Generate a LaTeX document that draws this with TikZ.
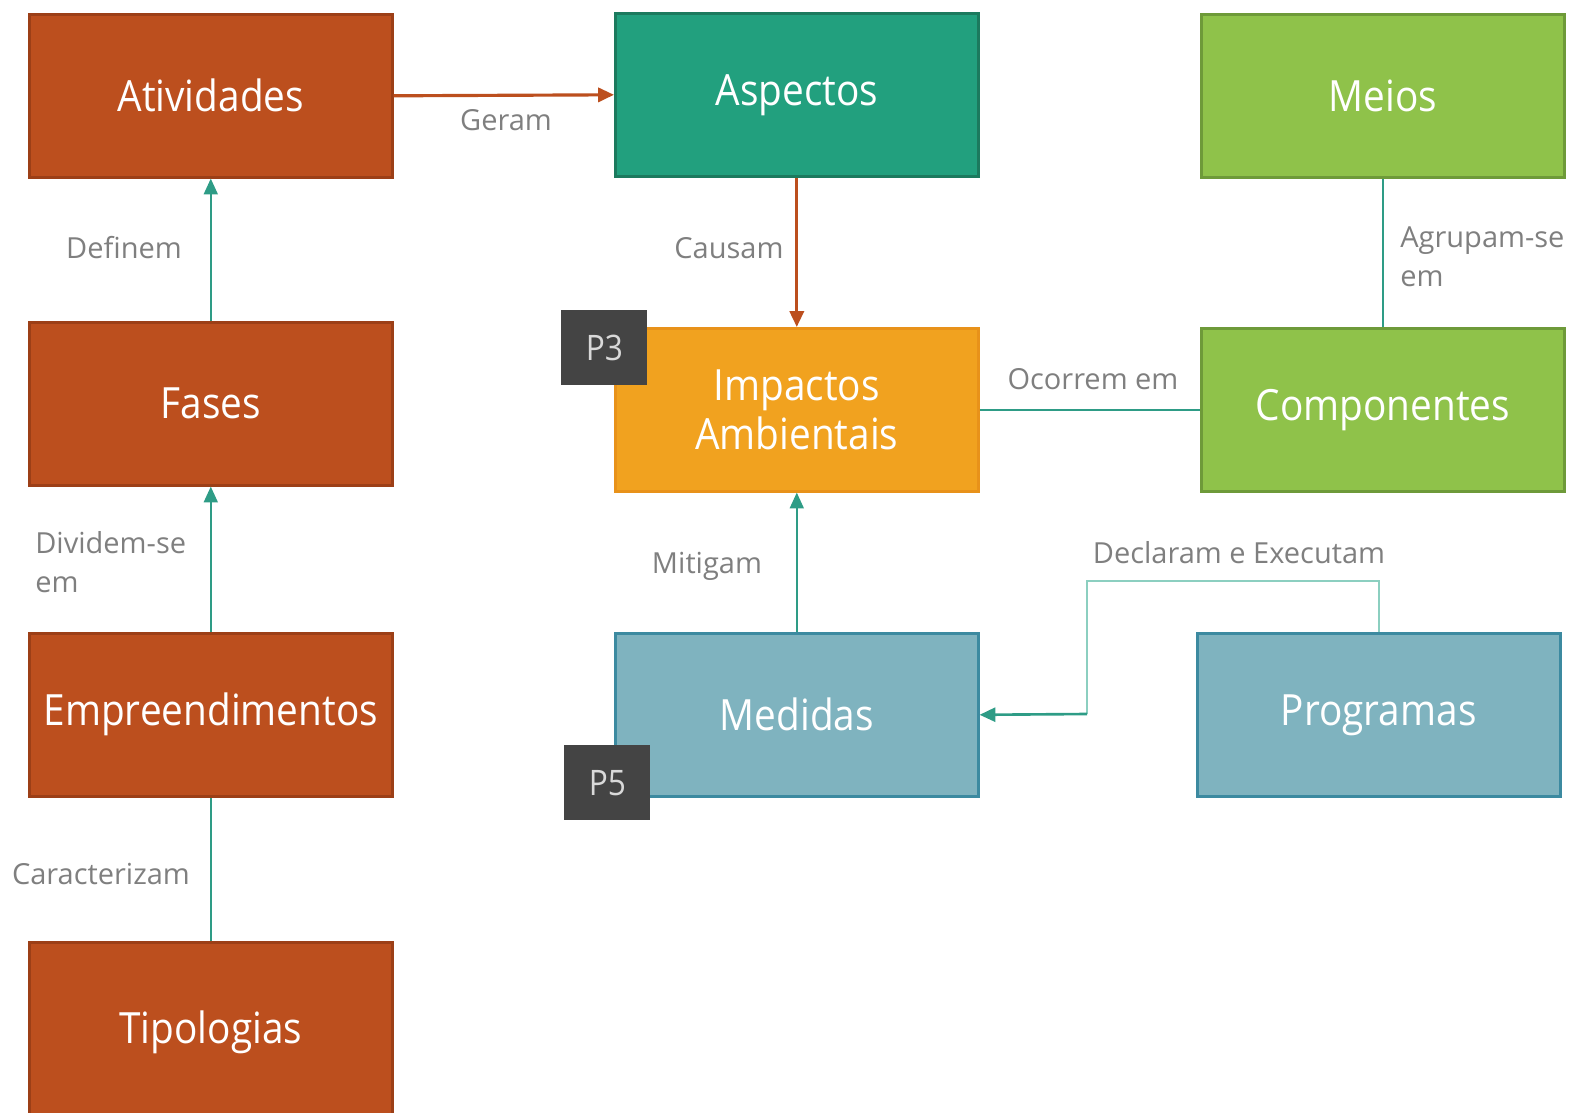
\documentclass[tikz,border=0pt]{standalone}
\usepackage{fontspec}
\setmainfont{Open Sans}
\newfontfamily\boxfont{Open Sans}[FakeStretch=0.9]
\usetikzlibrary{arrows.meta}
\definecolor{rust}{HTML}{BC4F1E}
\definecolor{rustd}{HTML}{9C3F17}
\definecolor{teal1}{HTML}{22A07E}
\definecolor{teal1d}{HTML}{1C7A5E}
\definecolor{lime}{HTML}{8FC24A}
\definecolor{limed}{HTML}{6E9A39}
\definecolor{amber}{HTML}{F1A21F}
\definecolor{amberd}{HTML}{E8921A}
\definecolor{steel}{HTML}{7FB3BF}
\definecolor{steeld}{HTML}{3C8AA0}
\definecolor{dark}{HTML}{444444}
\definecolor{lbl}{HTML}{7F7F7F}
\definecolor{link}{HTML}{2E9C86}
\definecolor{linkl}{HTML}{8CCFC0}
\tikzset{
  box/.style={draw, line width=1.5pt, minimum width=7.26cm, text width=7.26cm, minimum height=3.26cm, anchor=north west, inner sep=0pt, text=white, font=\boxfont\fontsize{24.5}{28}\selectfont, align=center},
  tag/.style={fill=dark, minimum width=1.72cm, minimum height=1.5cm, anchor=north west, inner sep=0pt, text=black!15, font=\boxfont\fontsize{20}{24}\selectfont},
  lab/.style={text=lbl, font=\fontsize{16.5}{22}\selectfont, inner sep=0pt},
  conn/.style={draw=link, line width=0.9pt},
  arr/.style={-{Triangle[length=9pt,width=8pt]}},
}
\begin{document}
\begin{tikzpicture}[x=0.02cm,y=-0.02cm]
\useasboundingbox (0,0) rectangle (1585,1112);
% boxes
\node[box, fill=rust, draw=rustd] (ativ) at (28,13) {Atividades};
\node[box, fill=teal1, draw=teal1d] (asp) at (614,12) {Aspectos};
\node[box, fill=lime, draw=limed] (meios) at (1200,13) {Meios};
\node[box, fill=rust, draw=rustd] (fases) at (28,321) {Fases};
\node[box, fill=amber, draw=amberd] (imp) at (614,327) {Impactos\\Ambientais};
\node[box, fill=lime, draw=limed] (comp) at (1200,327) {Componentes};
\node[box, fill=rust, draw=rustd] (emp) at (28,632) {Empreendimentos};
\node[box, fill=steel, draw=steeld] (med) at (614,632) {Medidas};
\node[box, fill=steel, draw=steeld] (prog) at (1196,632) {Programas};
\node[box, fill=rust, draw=rustd, minimum height=3.7cm] (tip) at (28,941) {\raisebox{0.3cm}{Tipologias}};
\node[tag] (p3) at (561,310) {P3};
\node[tag] (p5) at (564,745) {P5};
% connectors
\draw[draw=rust, line width=1.8pt, arr] (ativ.east) -- (asp.west);
\node[lab] (lgeram) at (506,120) {Geram};
\draw[draw=rust, line width=1.8pt, arr] (asp.south) -- (imp.north);
\node[lab] (lcausam) at (729,248) {Causam};
\draw[conn, arr] (fases.north) -- (ativ.south);
\node[lab] (ldef) at (124,248) {Definem};
\draw[conn, arr] (emp.north) -- (fases.south);
\node[lab, align=left, anchor=west] (ldiv) at (35,562) {Dividem-se\\em};
\draw[conn] (tip.north) -- (emp.south);
\node[lab] (lcar) at (101,874) {Caracterizam};
\draw[conn, arr] (med.north) -- (imp.south);
\node[lab] (lmit) at (707,566) {Mitigam};
\draw[conn] (imp.east) -- (comp.west);
\node[lab] (locc) at (1093,379) {Ocorrem em};
\draw[conn] (meios.south) -- (comp.north);
\node[lab, align=left, anchor=west] (lagr) at (1400,257) {Agrupam-se\\em};
\coordinate (c1) at (1379,581);
\coordinate (c2) at (1087,581);
\coordinate (c3) at (1087,714);
\draw[draw=linkl, line width=1.5pt] (prog.north -| c1) -- (c1) -- (c2) -- (c3);
\draw[conn, line width=1.5pt, arr] (c3) -- (med.east);
\node[lab] (ldecl) at (1239,553) {Declaram e Executam};
\end{tikzpicture}
\end{document}
